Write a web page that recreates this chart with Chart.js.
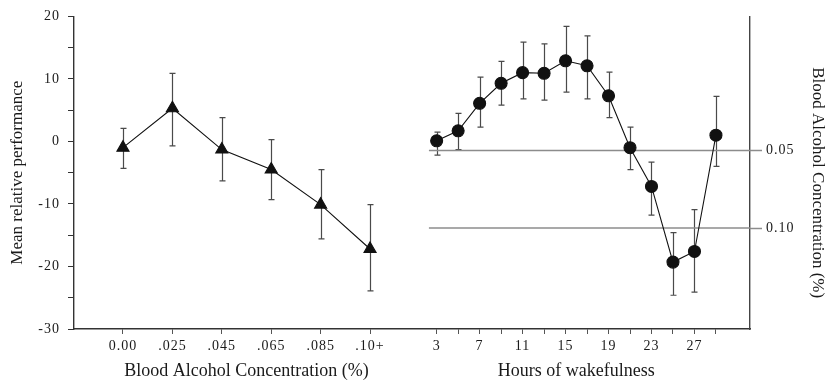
<!DOCTYPE html>
<html>
<head>
<meta charset="utf-8">
<script src="https://cdn.jsdelivr.net/npm/chart.js@4"></script>
<style>
  html, body { margin: 0; padding: 0; background: #fff; }
  #wrap { width: 825px; height: 380px; }
</style>
</head>
<body>
<div id="wrap"><canvas id="chart"></canvas></div>
<script>
// left panel: performance by blood alcohol concentration
const bacLabels = ['0.00', '.025', '.045', '.065', '.085', '.10+'];
const bacMean  = [-1.0, 5.3, -1.3, -4.5, -10.1, -17.2];
const bacUpper = [2.1, 10.9, 3.8, 0.3, -4.5, -10.1];
const bacLower = [-4.3, -0.7, -6.3, -9.3, -15.6, -23.9];

// right panel: performance by hours of wakefulness
const hours     = [3, 5, 7, 9, 11, 13, 15, 17, 19, 21, 23, 25, 27, 29];
const wakeMean  = [0.1, 1.7, 6.1, 9.3, 11.0, 10.9, 12.9, 12.1, 7.3, -1.0, -7.2, -19.3, -17.6, 1.0];
const wakeUpper = [1.5, 4.5, 10.3, 12.8, 15.9, 15.6, 18.4, 16.9, 11.1, 2.3, -3.3, -14.6, -10.9, 7.2];
const wakeLower = [-2.2, -1.3, 2.3, 5.8, 6.8, 6.6, 7.9, 6.8, 3.8, -4.5, -11.8, -24.6, -24.1, -4.0];
const hourLabels = [3, 7, 11, 15, 19, 23, 27];

// blood alcohol reference levels (right axis)
const bacLevels = [0.05, 0.10];

const SERIF = "'Liberation Serif', 'DejaVu Serif', serif";

// both panels share one linear x axis; the BAC categories sit left of the hours
const LEFT_START = -26.2, LEFT_STEP = 4.6;
const bacX = bacLabels.map((_, i) => LEFT_START + LEFT_STEP * i);
const X_MIN = -30.76, X_MAX = 32.17, LINE_START = 2.28;

function pts(xs, ys) {
  return xs.map((x, i) => ({ x: x, y: ys[i] }));
}

const errorBars = {
  id: 'errorBars',
  beforeDatasetsDraw(chart) {
    const ctx = chart.ctx, xs = chart.scales.x, ys = chart.scales.y;
    ctx.save();
    ctx.strokeStyle = '#4a4a4a';
    ctx.lineWidth = 1.2;
    [[bacX, bacUpper, bacLower], [hours, wakeUpper, wakeLower]].forEach(([xv, up, lo]) => {
      xv.forEach((x, i) => {
        const px = Math.round(xs.getPixelForValue(x)) + 0.5;
        const t = ys.getPixelForValue(up[i]);
        const b = ys.getPixelForValue(lo[i]);
        ctx.beginPath();
        ctx.moveTo(px, t); ctx.lineTo(px, b);
        ctx.moveTo(px - 3, t); ctx.lineTo(px + 3, t);
        ctx.moveTo(px - 3, b); ctx.lineTo(px + 3, b);
        ctx.stroke();
      });
    });
    ctx.restore();
  }
};

const spacing = {
  id: 'spacing',
  beforeDraw(chart) { chart.ctx.letterSpacing = '1px'; }
};

const titles = {
  id: 'titles',
  afterDraw(chart) {
    const ctx = chart.ctx, xs = chart.scales.x, area = chart.chartArea;
    ctx.save();
    ctx.letterSpacing = '0px';
    ctx.fillStyle = '#1a1a1a';
    ctx.textAlign = 'center';
    ctx.textBaseline = 'middle';
    ctx.font = '18px ' + SERIF;
    ctx.fillText('Blood Alcohol Concentration (%)', xs.getPixelForValue((bacX[0] + bacX[bacX.length - 1]) / 2), 371);
    ctx.fillText('Hours of wakefulness', xs.getPixelForValue((hours[0] + hours[hours.length - 1]) / 2), 371);
    ctx.font = '17px ' + SERIF;
    const midY = (area.top + area.bottom) / 2;
    ctx.save();
    ctx.translate(18, midY);
    ctx.rotate(-Math.PI / 2);
    ctx.fillText('Mean relative performance', 0, 0);
    ctx.restore();
    ctx.save();
    ctx.translate(817, midY + 10);
    ctx.rotate(Math.PI / 2);
    ctx.fillText('Blood Alcohol Concentration (%)', 0, 0);
    ctx.restore();
    ctx.restore();
  }
};

Chart.defaults.font.family = SERIF;
Chart.defaults.font.size = 14;
Chart.defaults.color = '#1a1a1a';

const levelSets = bacLevels.map(v => ({
  data: [{ x: LINE_START, y: v }, { x: X_MAX, y: v }],
  yAxisID: 'y2',
  borderColor: '#8c8c8c',
  borderWidth: 1.5,
  pointRadius: 0
}));

new Chart(document.getElementById('chart'), {
  type: 'line',
  data: {
    datasets: [
      {
        data: pts(bacX, bacMean),
        borderColor: '#111',
        borderWidth: 1.1,
        pointStyle: 'triangle',
        pointRadius: 7,
        pointBackgroundColor: '#111',
        pointBorderColor: '#111'
      },
      {
        data: pts(hours, wakeMean),
        borderColor: '#111',
        borderWidth: 1.1,
        pointStyle: 'circle',
        pointRadius: 6,
        pointBackgroundColor: '#111',
        pointBorderColor: '#111'
      },
      ...levelSets
    ]
  },
  options: {
    responsive: true,
    maintainAspectRatio: false,
    animation: false,
    layout: { padding: { top: 15, left: 0, right: 0, bottom: 0 } },
    plugins: { legend: { display: false }, tooltip: { enabled: false } },
    scales: {
      x: {
        type: 'linear',
        min: X_MIN,
        max: X_MAX,
        afterBuildTicks: s => { s.ticks = [...bacX, ...hours].map(v => ({ value: v })); },
        afterFit: s => { s.height = 51; },
        ticks: {
          autoSkip: false,
          maxRotation: 0,
          padding: 4,
          callback: (v, i) => {
            if (i < bacLabels.length) return bacLabels[i];
            const h = hours[i - bacLabels.length];
            return hourLabels.includes(h) ? String(h) : '';
          }
        },
        grid: { drawOnChartArea: false, tickLength: 5, tickColor: '#555' },
        border: { color: '#333', width: 1.4 }
      },
      y: {
        min: -30,
        max: 20,
        afterFit: s => { s.width = 74; },
        ticks: {
          stepSize: 5,
          padding: 8,
          callback: v => (v % 10 === 0 ? String(v) : '')
        },
        grid: { drawOnChartArea: false, tickLength: 6, tickColor: '#333' },
        border: { color: '#333', width: 1.4 }
      },
      y2: {
        position: 'right',
        reverse: true,
        min: -0.03654,
        max: 0.16513,
        afterBuildTicks: s => { s.ticks = bacLevels.map(v => ({ value: v })); },
        afterFit: s => { s.width = 75; },
        ticks: { padding: 4, callback: v => v.toFixed(2) },
        grid: { drawOnChartArea: false, tickLength: 12, tickColor: '#8c8c8c', tickWidth: 1.5 },
        border: { color: '#444', width: 1.4 }
      }
    }
  },
  plugins: [spacing, errorBars, titles]
});
</script>
</body>
</html>
